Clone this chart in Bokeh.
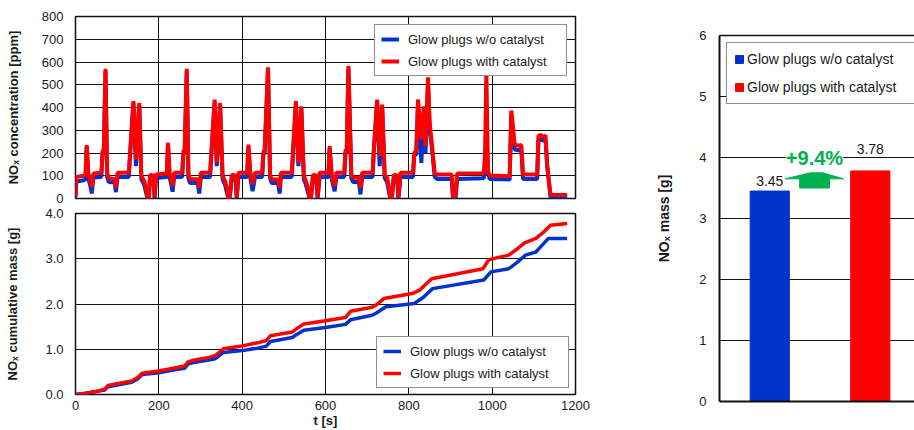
from bokeh.plotting import figure
from bokeh.layouts import row, column
from bokeh.models import (Range1d, FixedTicker, PrintfTickFormatter, Legend, LegendItem,
                          Label, LinearAxis)
from bokeh.embed import file_html
from bokeh.resources import INLINE

FONT = "Liberation Sans"
BLUE = "#0033CC"
RED = "#FF0000"
GREEN = "#00B050"
INK = "#1a1a1a"

series_names = ["Glow plugs w/o catalyst", "Glow plugs with catalyst"]

# NOx concentration trace over the test cycle [ppm]
conc_t = [0, 2, 20, 24, 27, 31, 35, 39, 43, 62, 65, 68, 72, 76, 80, 94, 97, 101, 128, 131,
          139, 145, 153, 158, 165, 170, 173, 176, 179, 187, 190, 193, 219, 222, 226, 229, 233,
          237, 256, 259, 262, 267, 271, 275, 293, 297, 301, 323, 326, 334, 339, 347, 353, 359,
          364, 367, 370, 375, 384, 387, 391, 412, 415, 420, 425, 431, 448, 451, 454, 462, 467,
          471, 486, 490, 493, 519, 522, 529, 535, 542, 548, 553, 559, 562, 565, 570, 578, 581,
          586, 607, 610, 615, 622, 626, 645, 648, 651, 655, 662, 666, 680, 684, 688, 713, 716,
          724, 730, 736, 742, 748, 753, 756, 759, 764, 772, 775, 780, 810, 813, 818, 822, 830,
          836, 840, 846, 850, 855, 862, 868, 903, 906, 912, 916, 980, 983, 986, 990, 994, 1042,
          1046, 1054, 1064, 1070, 1074, 1108, 1111, 1116, 1122, 1128, 1132, 1140, 1180]
conc_without = [5, 75, 80, 85, 225, 85, 60, 22, 92, 95, 195, 200, 560, 95, 72, 70, 28, 95, 95, 190,
                420, 142, 410, 85, 60, 20, 0, 0, 90, 85, 0, 90, 95, 235, 90, 70, 30,
                95, 95, 195, 200, 560, 90, 68, 68, 22, 95, 95, 190, 425, 142, 410, 85, 60,
                20, 0, 0, 90, 85, 0, 95, 95, 225, 85, 32, 95, 95, 195, 200, 565, 90,
                68, 68, 22, 95, 95, 195, 420, 142, 395, 85, 60, 20, 0, 0, 90, 85, 0,
                95, 95, 220, 85, 32, 95, 95, 200, 200, 570, 90, 72, 72, 18, 95, 95, 205,
                425, 142, 400, 90, 72, 20, 0, 0, 90, 85, 0, 95, 95, 190, 195, 420, 157,
                380, 200, 500, 300, 230, 95, 86, 86, 0, 0, 86, 89, 150, 310, 110, 86, 83,
                370, 215, 212, 214, 86, 86, 255, 260, 255, 258, 140, 7, 7]
conc_with = [10, 95, 100, 105, 235, 105, 80, 50, 110, 113, 208, 215, 570, 110, 88, 85, 47, 113, 113, 200,
             428, 171, 420, 100, 76, 40, 0, 0, 105, 100, 5, 105, 110, 245, 105, 90, 55,
             113, 113, 208, 215, 570, 105, 85, 85, 47, 113, 113, 200, 435, 157, 420, 100, 76,
             40, 0, 0, 105, 100, 5, 113, 113, 237, 100, 62, 113, 113, 205, 212, 577, 105,
             84, 84, 47, 113, 113, 208, 428, 157, 405, 100, 76, 40, 0, 0, 105, 100, 5,
             113, 113, 230, 100, 54, 113, 113, 211, 215, 582, 105, 91, 91, 47, 113, 113, 220,
             435, 186, 413, 105, 91, 40, 0, 0, 105, 100, 5, 113, 113, 200, 210, 435, 260,
             405, 230, 533, 333, 245, 113, 105, 105, 10, 10, 110, 110, 200, 555, 120, 101, 98,
             387, 237, 232, 235, 105, 105, 274, 280, 270, 277, 150, 15, 15]

# Cumulative NOx mass [g]
cum_t_without = [0, 20, 60, 70, 78, 100, 135, 150, 160, 200, 235, 262, 270, 280, 320, 335, 345,
                 355, 400, 440, 458, 468, 520, 530, 548, 600, 648, 660, 712, 722, 745, 813, 835,
                 857, 980, 997, 1040, 1060, 1080, 1105, 1120, 1135, 1180]
cum_without = [0.00, 0.02, 0.08, 0.10, 0.17, 0.21, 0.27, 0.35, 0.44, 0.48, 0.54, 0.58, 0.67, 0.70,
               0.76, 0.79, 0.86, 0.93, 0.97, 1.03, 1.07, 1.17, 1.26, 1.32, 1.42, 1.48, 1.55, 1.65,
               1.75, 1.80, 1.94, 2.01, 2.15, 2.34, 2.53, 2.71, 2.78, 2.92, 3.08, 3.15, 3.30, 3.45,
               3.45]
cum_t_with = [0, 20, 60, 70, 78, 100, 135, 150, 160, 200, 235, 262, 270, 280, 320, 335, 345, 355,
              400, 440, 458, 468, 520, 530, 548, 600, 648, 660, 712, 722, 740, 808, 825, 840, 855,
              978, 992, 1040, 1060, 1078, 1105, 1125, 1140, 1180]
cum_with = [0.00, 0.02, 0.09, 0.12, 0.20, 0.24, 0.30, 0.38, 0.47, 0.52, 0.58, 0.63, 0.72, 0.75,
            0.82, 0.86, 0.93, 1.01, 1.07, 1.15, 1.19, 1.30, 1.38, 1.45, 1.56, 1.63, 1.70, 1.84,
            1.93, 1.98, 2.12, 2.23, 2.30, 2.43, 2.56, 2.78, 2.98, 3.08, 3.22, 3.35, 3.45, 3.60,
            3.74, 3.78]

# Total NOx mass over the cycle [g]
bar_pos = [1, 2]
total_mass = [3.45, 3.78]
increase_text = "+9.4%"

time_ticks = [0, 200, 400, 600, 800, 1000, 1200]
conc_ticks = [0, 100, 200, 300, 400, 500, 600, 700, 800]
cum_ticks = [0, 1, 2, 3, 4]
mass_ticks = [0, 1, 2, 3, 4, 5, 6]


def style_axes(p, label_px="13px"):
    for ax in p.axis:
        ax.major_label_text_font = FONT
        ax.major_label_text_font_size = "13px"
        ax.major_label_text_color = INK
        ax.axis_label_text_font = FONT
        ax.axis_label_text_font_style = "bold"
        ax.axis_label_text_font_size = label_px
        ax.axis_label_text_color = INK
        ax.major_tick_out = 0
        ax.major_tick_in = 0
        ax.minor_tick_out = 0
        ax.minor_tick_in = 0
        ax.axis_line_color = None
    p.grid.grid_line_color = "#111111"
    p.grid.grid_line_width = 1
    p.background_fill_color = "white"
    p.border_fill_color = "white"


def make_legend(items, location, margin):
    lg = Legend(items=items, location=location, margin=margin, padding=6, spacing=6,
                glyph_width=18, glyph_height=16, label_height=16, label_width=152,
                label_standoff=9, label_text_font=FONT, label_text_font_size="13px",
                label_text_color=INK, border_line_color="#222222", border_line_width=1,
                background_fill_color="white", background_fill_alpha=1.0)
    return lg


# ---- concentration trace ----
top = figure(width=600, height=206, x_range=Range1d(0, 1200), y_range=Range1d(0, 800),
             output_backend="svg", toolbar_location=None,
             min_border_left=75, min_border_right=25, min_border_top=16, min_border_bottom=8)
top.xaxis.ticker = FixedTicker(ticks=time_ticks)
top.xgrid.ticker = FixedTicker(ticks=time_ticks)
top.yaxis.ticker = FixedTicker(ticks=conc_ticks)
top.ygrid.ticker = FixedTicker(ticks=conc_ticks)
top.yaxis.axis_label = "NOₓ concentration [ppm]"
top.yaxis.major_label_standoff = 12
top.yaxis.axis_label_standoff = 18
style_axes(top)
top.xaxis.visible = False
top.outline_line_color = "#111111"
top.outline_line_width = 1.5
r_top_wo = top.line(conc_t, conc_without, line_color=BLUE, line_width=4)
r_top_w = top.line(conc_t, conc_with, line_color=RED, line_width=4)
top.add_layout(make_legend([LegendItem(label=series_names[0], renderers=[r_top_wo]),
                            LegendItem(label=series_names[1], renderers=[r_top_w])],
                           "top_right", 8))

# ---- cumulative mass ----
bot = figure(width=600, height=224, x_range=Range1d(0, 1200), y_range=Range1d(0, 4),
             output_backend="svg", toolbar_location=None,
             min_border_left=75, min_border_right=25, min_border_top=7, min_border_bottom=36)
bot.xaxis.ticker = FixedTicker(ticks=time_ticks)
bot.xgrid.ticker = FixedTicker(ticks=time_ticks)
bot.yaxis.ticker = FixedTicker(ticks=cum_ticks)
bot.ygrid.ticker = FixedTicker(ticks=cum_ticks)
bot.yaxis.formatter = PrintfTickFormatter(format="%.1f")
bot.yaxis.axis_label = "NOₓ cumulative mass [g]"
bot.yaxis.major_label_standoff = 12
bot.yaxis.axis_label_standoff = 22
bot.xaxis.axis_label = "t [s]"
bot.xaxis.major_label_standoff = 6
bot.xaxis.axis_label_standoff = 0
style_axes(bot)
bot.outline_line_color = "#111111"
bot.outline_line_width = 1.5
r_bot_wo = bot.line(cum_t_without, cum_without, line_color=BLUE, line_width=3.5)
r_bot_w = bot.line(cum_t_with, cum_with, line_color=RED, line_width=3.5)
bot.add_layout(make_legend([LegendItem(label=series_names[0], renderers=[r_bot_wo]),
                            LegendItem(label=series_names[1], renderers=[r_bot_w])],
                           "bottom_right", 6))

# ---- total mass bars ----
bar = figure(width=314, height=430, x_range=Range1d(0.5, 2.44), y_range=Range1d(0, 6),
             output_backend="svg", toolbar_location=None,
             min_border_left=119, min_border_right=0, min_border_top=35, min_border_bottom=29)
bar.outline_line_color = None
bar.yaxis.ticker = FixedTicker(ticks=mass_ticks)
bar.ygrid.ticker = FixedTicker(ticks=mass_ticks)
bar.xaxis.ticker = FixedTicker(ticks=[])
bar.xgrid.visible = False
bar.yaxis.axis_label = "NOₓ mass [g]"
bar.yaxis.major_label_standoff = 13
bar.yaxis.axis_label_standoff = 24
style_axes(bar, label_px="14px")
bar.xaxis.major_label_text_font_size = "0px"
for ax in (bar.xaxis[0], bar.yaxis[0]):
    ax.axis_line_color = "#111111"
    ax.axis_line_width = 2
top_edge = LinearAxis(ticker=FixedTicker(ticks=[]), major_label_text_font_size="0px",
                      axis_line_color="#111111", axis_line_width=1.5,
                      major_tick_out=0, major_tick_in=0, minor_tick_out=0, minor_tick_in=0)
bar.add_layout(top_edge, "above")

bar_colors = [BLUE, RED]
bar_items = []
for i, (xp, v) in enumerate(zip(bar_pos, total_mass)):
    rb = bar.vbar(x=[xp], top=[v], bottom=0, width=0.39, fill_color=bar_colors[i],
                  line_color=bar_colors[i])
    bar_items.append(LegendItem(label=series_names[i], renderers=[rb]))

bar_legend = Legend(items=bar_items, location="top_left", margin=7, padding=7, spacing=10,
                    glyph_width=10, glyph_height=10, label_height=18, label_width=220,
                    label_standoff=3, label_text_font=FONT, label_text_font_size="14px",
                    label_text_color=INK, border_line_color="#222222", border_line_width=1,
                    background_fill_color="white", background_fill_alpha=1.0)
bar.add_layout(bar_legend)

label_lift = [10, 22]
for xp, v, lift in zip(bar_pos, total_mass, label_lift):
    bar.add_layout(Label(x=xp, y=v, y_offset=lift, text=f"{v:.2f}", text_align="center",
                         text_baseline="middle", text_font=FONT, text_font_size="14px",
                         text_color=INK))

# block arrow between the two bars, pointing up
lo, hi = total_mass
ax_c = (bar_pos[0] + bar_pos[1]) / 2 - 0.055
base_y = lo + 0.20
tip_y = hi - 0.03
stem_y = lo + 0.05
arrow_x = [ax_c - 0.29, ax_c - 0.04, ax_c + 0.08, ax_c + 0.29, ax_c + 0.15, ax_c + 0.15,
           ax_c - 0.148, ax_c - 0.148]
arrow_y = [base_y, tip_y, tip_y, base_y, base_y, stem_y, stem_y, base_y]
bar.patch(arrow_x, arrow_y, fill_color=GREEN, line_color=GREEN)
bar.add_layout(Label(x=ax_c, y=4.0, text=increase_text, text_align="center",
                     text_baseline="middle", text_font=FONT, text_font_style="bold",
                     text_font_size="20px", text_color=GREEN,
                     background_fill_color="white", background_fill_alpha=1.0))

layout = row(column(top, bot, spacing=0), bar, spacing=0)
open("out.html", "w").write(file_html(layout, INLINE))
